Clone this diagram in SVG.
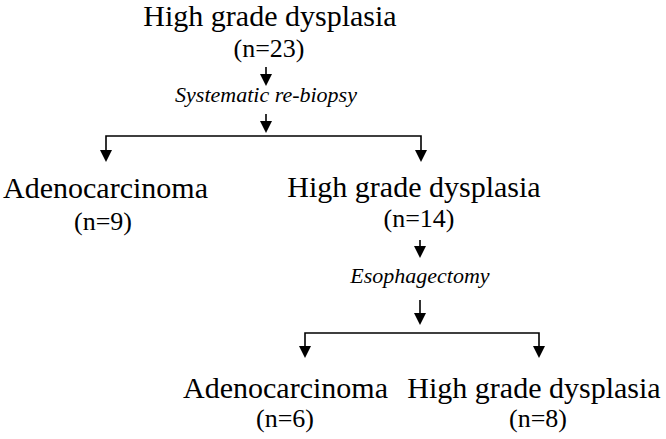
<svg xmlns="http://www.w3.org/2000/svg" width="666" height="439" viewBox="0 0 666 439">
<style>
text{font-family:"Liberation Serif",Tinos,"DejaVu Serif","Times New Roman",Times,serif;fill:#000;text-anchor:middle}
.name{font-size:30px}
.cnt{font-size:26px}
.step{font-size:22px;font-style:italic}
.ln{stroke:#000;stroke-width:1.6;fill:none}
.ah{fill:#000}
</style>
<rect width="666" height="439" fill="#fff"/>
<g id="connectors">
<line class="ln" x1="266" y1="67" x2="266" y2="75"/>
<path class="ah" d="M260,74 L272,74 L266,86 Z"/>
<line class="ln" x1="266" y1="114" x2="266" y2="122"/>
<path class="ah" d="M260,121 L272,121 L266,133 Z"/>
<polyline class="ln" points="106,151 106,136 421,136 421,151"/>
<path class="ah" d="M100,150 L112,150 L106,162 Z"/>
<path class="ah" d="M415,150 L427,150 L421,162 Z"/>
<line class="ln" x1="420" y1="240" x2="420" y2="247"/>
<path class="ah" d="M414,246 L426,246 L420,258 Z"/>
<line class="ln" x1="420" y1="300" x2="420" y2="314"/>
<path class="ah" d="M414,313 L426,313 L420,325 Z"/>
<polyline class="ln" points="305,347 305,333 539,333 539,347"/>
<path class="ah" d="M299,346 L311,346 L305,358 Z"/>
<path class="ah" d="M533,346 L545,346 L539,358 Z"/>
</g>
<g id="n-hgd-root">
<text class="name" x="270" y="26" font-family="Liberation Serif, serif">High grade dysplasia</text>
<text class="cnt" x="269" y="57">(n=23)</text>
</g>
<g id="s-rebiopsy">
<text class="step" x="266" y="102">Systematic re-biopsy</text>
</g>
<g id="n-adeno-1">
<text class="name" x="105.5" y="198">Adenocarcinoma</text>
<text class="cnt" x="103" y="230">(n=9)</text>
</g>
<g id="n-hgd-2">
<text class="name" x="414" y="197">High grade dysplasia</text>
<text class="cnt" x="419" y="227">(n=14)</text>
</g>
<g id="s-esoph">
<text class="step" x="420" y="283">Esophagectomy</text>
</g>
<g id="n-adeno-2">
<text class="name" x="285.5" y="398">Adenocarcinoma</text>
<text class="cnt" x="285" y="427">(n=6)</text>
</g>
<g id="n-hgd-3">
<text class="name" x="534" y="398">High grade dysplasia</text>
<text class="cnt" x="538" y="427">(n=8)</text>
</g>
</svg>
